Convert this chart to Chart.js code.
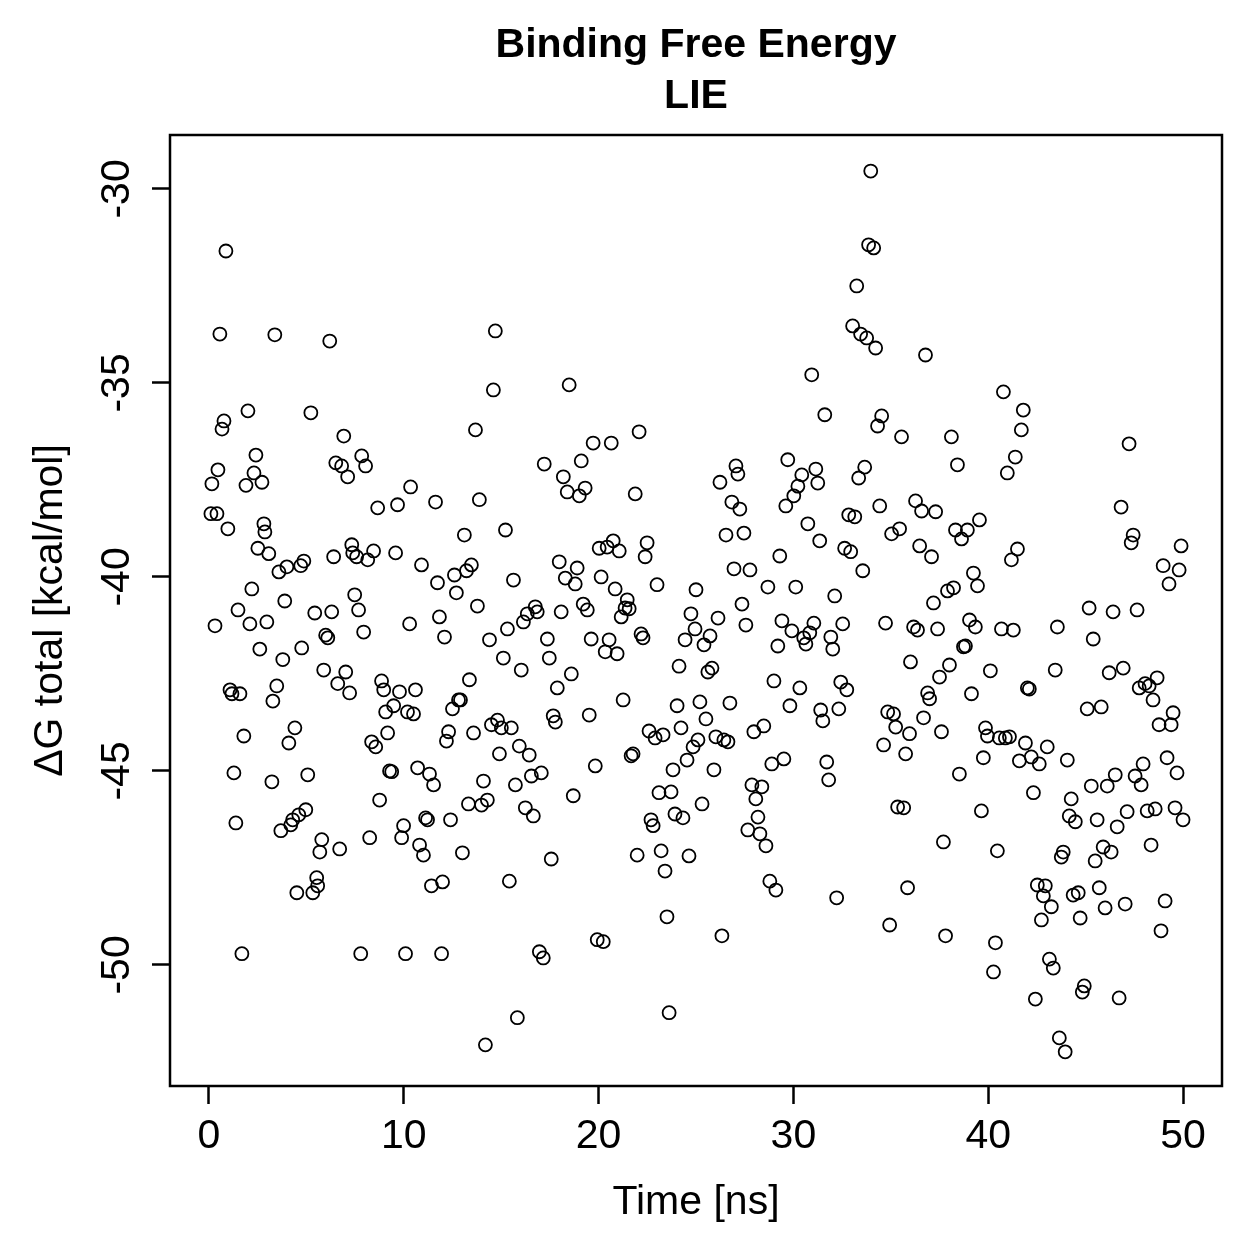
<!DOCTYPE html>
<html><head><meta charset="utf-8">
<script src="https://cdn.jsdelivr.net/npm/chart.js@4.4.1/dist/chart.umd.min.js"></script>
<style>html,body{margin:0;padding:0;background:#fff;}#wrap{width:1259px;height:1259px;}</style>
</head><body><div id="wrap"><canvas id="c" width="1259" height="1259"></canvas></div>
<script>
const titleLines = ['Binding Free Energy', 'LIE'];
const xLabel = 'Time [ns]';
const yLabel = 'ΔG total [kcal/mol]';
const xTicks = [0, 10, 20, 30, 40, 50];
const yTicks = [-50, -45, -40, -35, -30];

const times = [0.1,0.15,0.31,0.41,0.46,0.56,0.67,0.77,0.87,0.97,1.08,1.18,1.28,1.38,1.49,1.59,1.69,1.79,1.9,2.0,2.1,2.2,2.31,2.41,2.51,2.61,2.72,2.82,2.87,2.97,3.07,3.23,3.28,3.38,3.48,3.59,3.69,3.79,3.89,4.0,4.1,4.2,4.3,4.41,4.51,4.61,4.71,4.76,4.87,4.97,5.07,5.23,5.33,5.43,5.53,5.58,5.69,5.79,5.89,5.99,6.1,6.2,6.3,6.4,6.51,6.61,6.71,6.81,6.92,7.02,7.12,7.22,7.33,7.38,7.48,7.58,7.68,7.79,7.84,7.94,8.04,8.15,8.25,8.35,8.45,8.56,8.66,8.76,8.86,8.97,9.07,9.17,9.27,9.38,9.48,9.58,9.68,9.78,9.89,9.99,10.09,10.19,10.3,10.35,10.5,10.6,10.71,10.81,10.91,11.01,11.12,11.22,11.32,11.42,11.53,11.63,11.73,11.83,11.94,11.99,12.09,12.19,12.3,12.4,12.5,12.6,12.7,12.81,12.91,13.01,13.11,13.22,13.32,13.37,13.47,13.58,13.68,13.78,13.88,13.99,14.09,14.19,14.29,14.4,14.5,14.6,14.7,14.81,14.91,15.01,15.11,15.22,15.32,15.42,15.52,15.63,15.73,15.83,15.93,16.03,16.14,16.24,16.34,16.44,16.55,16.65,16.75,16.85,16.96,17.06,17.16,17.21,17.37,17.47,17.57,17.67,17.78,17.88,17.98,18.08,18.19,18.29,18.39,18.49,18.6,18.7,18.8,18.9,19.01,19.11,19.21,19.31,19.42,19.52,19.62,19.72,19.83,19.93,20.03,20.13,20.24,20.34,20.44,20.54,20.65,20.75,20.85,20.95,21.06,21.16,21.26,21.36,21.47,21.57,21.67,21.77,21.88,21.98,22.08,22.18,22.28,22.39,22.49,22.59,22.69,22.8,22.9,23.0,23.1,23.21,23.31,23.41,23.51,23.62,23.72,23.82,23.92,24.03,24.13,24.23,24.33,24.44,24.54,24.64,24.74,24.85,24.95,25.0,25.1,25.2,25.31,25.41,25.51,25.61,25.72,25.82,25.92,26.02,26.13,26.23,26.33,26.43,26.54,26.64,26.74,26.84,26.95,27.05,27.15,27.25,27.36,27.46,27.56,27.66,27.77,27.87,27.97,28.07,28.18,28.28,28.38,28.48,28.59,28.69,28.79,28.89,29.0,29.1,29.2,29.3,29.41,29.51,29.61,29.71,29.82,29.92,30.02,30.12,30.23,30.33,30.43,30.53,30.64,30.74,30.84,30.94,31.05,31.15,31.25,31.35,31.4,31.51,31.61,31.71,31.81,31.92,32.02,32.12,32.22,32.33,32.43,32.53,32.63,32.74,32.84,32.94,33.04,33.15,33.25,33.35,33.45,33.56,33.66,33.76,33.86,33.97,34.12,34.22,34.32,34.43,34.53,34.63,34.73,34.84,34.94,35.04,35.14,35.25,35.35,35.45,35.55,35.66,35.76,35.86,35.96,36.01,36.17,36.27,36.37,36.48,36.58,36.68,36.78,36.89,36.99,37.09,37.19,37.3,37.4,37.5,37.6,37.7,37.81,37.91,38.01,38.11,38.22,38.32,38.42,38.52,38.63,38.73,38.83,38.93,39.04,39.14,39.24,39.34,39.45,39.55,39.65,39.75,39.86,39.96,40.11,40.27,40.37,40.47,40.57,40.68,40.78,40.88,40.98,41.09,41.19,41.29,41.39,41.5,41.6,41.7,41.8,41.91,42.01,42.11,42.21,42.32,42.42,42.52,42.62,42.73,42.83,42.93,43.03,43.14,43.24,43.34,43.44,43.55,43.65,43.75,43.85,43.95,44.06,44.16,44.26,44.36,44.47,44.62,44.72,44.83,44.93,45.08,45.18,45.29,45.39,45.49,45.59,45.7,45.8,45.9,46.0,46.11,46.21,46.31,46.41,46.52,46.62,46.72,46.82,46.93,47.03,47.13,47.23,47.34,47.44,47.54,47.64,47.75,47.85,47.95,48.05,48.16,48.26,48.36,48.46,48.57,48.67,48.77,48.87,48.98,49.08,49.18,49.28,49.39,49.49,49.59,49.69,49.8,49.9,50.0];

const dG = [-38.37,-37.6,-41.26,-38.37,-37.24,-33.74,-36.19,-35.98,-31.6,-38.76,-42.91,-43.01,-45.05,-46.34,-40.85,-43.01,-49.71,-44.1,-37.64,-35.72,-41.21,-40.31,-37.32,-36.86,-39.26,-41.86,-37.56,-38.63,-38.84,-41.16,-39.4,-45.28,-43.2,-33.76,-42.81,-39.87,-46.54,-42.13,-40.62,-39.74,-44.28,-46.39,-46.26,-43.89,-48.14,-46.13,-39.71,-41.83,-39.59,-46.0,-45.1,-35.77,-48.14,-40.93,-47.75,-47.96,-47.09,-46.77,-42.4,-41.5,-41.57,-33.92,-40.9,-39.48,-37.06,-42.75,-47.01,-37.14,-36.37,-42.45,-37.42,-42.99,-39.17,-39.38,-40.46,-39.48,-40.85,-49.71,-36.88,-41.42,-37.14,-39.56,-46.72,-44.25,-39.33,-44.38,-38.22,-45.75,-42.68,-42.91,-43.48,-44.02,-45.0,-45.02,-43.32,-39.38,-38.14,-42.96,-46.72,-46.41,-49.71,-43.48,-41.21,-37.68,-43.53,-42.91,-44.92,-46.91,-39.69,-47.17,-46.21,-46.26,-45.08,-47.96,-45.36,-38.07,-40.15,-41.03,-49.71,-47.86,-41.55,-44.23,-43.99,-46.26,-43.4,-39.95,-40.41,-43.17,-43.17,-47.11,-38.92,-39.84,-45.85,-42.65,-39.69,-44.02,-36.21,-40.75,-38.01,-45.88,-45.26,-52.06,-45.75,-41.62,-43.81,-35.18,-33.66,-43.69,-44.56,-43.89,-42.09,-38.79,-41.34,-47.84,-43.89,-40.08,-45.36,-51.36,-44.36,-42.4,-41.16,-45.95,-40.95,-44.59,-45.13,-46.16,-40.77,-40.9,-49.66,-45.05,-49.82,-37.09,-41.6,-42.09,-47.27,-43.58,-43.74,-42.86,-39.61,-40.9,-37.42,-40.03,-37.81,-35.05,-42.5,-45.64,-40.18,-39.77,-37.91,-37.01,-40.7,-37.71,-40.85,-43.56,-41.6,-36.55,-44.87,-49.35,-39.26,-40.0,-49.4,-41.93,-39.23,-41.62,-36.55,-39.07,-40.31,-41.98,-39.33,-41.03,-43.17,-40.8,-40.59,-40.82,-44.61,-44.56,-37.86,-47.17,-36.26,-41.47,-41.57,-39.48,-39.12,-43.97,-46.26,-46.41,-44.15,-40.2,-45.56,-47.06,-44.07,-47.58,-48.76,-51.23,-45.54,-44.97,-46.11,-43.32,-42.3,-43.89,-46.21,-41.62,-44.72,-47.19,-40.95,-44.38,-41.34,-40.33,-44.2,-43.22,-45.85,-41.75,-43.66,-42.45,-41.52,-42.35,-44.97,-44.12,-41.06,-37.56,-49.25,-44.2,-38.92,-44.25,-43.25,-38.07,-39.79,-37.14,-37.35,-38.25,-40.7,-38.87,-41.24,-46.52,-39.82,-45.36,-43.99,-45.72,-46.19,-46.62,-45.41,-43.84,-46.93,-40.26,-47.84,-44.82,-42.68,-48.07,-41.78,-39.46,-41.13,-44.69,-38.17,-36.98,-43.32,-41.39,-37.91,-40.26,-37.66,-42.86,-37.37,-41.57,-41.73,-38.63,-41.44,-34.79,-41.19,-37.22,-37.58,-39.07,-43.43,-43.71,-35.82,-44.77,-45.23,-41.55,-41.86,-40.49,-48.27,-43.4,-42.71,-41.21,-39.26,-42.91,-38.4,-39.35,-33.53,-38.45,-32.5,-37.45,-33.74,-39.84,-37.17,-33.84,-31.44,-29.54,-31.52,-34.1,-36.11,-38.17,-35.85,-44.33,-41.19,-43.48,-48.97,-38.89,-43.53,-43.87,-45.93,-38.76,-36.39,-45.95,-44.56,-48.01,-44.04,-42.19,-41.29,-38.04,-41.37,-39.2,-38.3,-43.63,-34.28,-42.99,-43.14,-39.48,-40.67,-38.32,-41.34,-42.58,-43.99,-46.83,-49.25,-40.36,-42.27,-36.39,-40.28,-38.79,-37.11,-45.08,-39.02,-41.8,-41.78,-38.79,-41.11,-43.01,-39.9,-41.29,-40.23,-38.53,-46.03,-44.66,-43.89,-44.1,-42.42,-50.18,-49.43,-47.06,-44.15,-41.34,-35.23,-44.15,-37.32,-44.12,-39.56,-41.37,-36.91,-39.28,-44.74,-36.21,-35.7,-44.28,-42.86,-42.89,-44.64,-45.56,-50.88,-47.94,-44.82,-48.84,-48.22,-47.96,-44.38,-49.85,-48.5,-50.08,-42.4,-41.29,-51.88,-47.22,-47.09,-52.24,-44.72,-46.16,-45.72,-48.2,-46.31,-48.14,-48.79,-50.7,-50.54,-43.4,-40.8,-45.39,-41.6,-47.32,-46.26,-48.01,-43.35,-46.96,-48.53,-45.39,-42.47,-47.09,-40.9,-45.1,-46.44,-50.85,-38.2,-42.35,-48.43,-46.05,-36.57,-39.12,-38.92,-45.13,-40.85,-42.86,-45.36,-44.82,-42.75,-46.03,-42.81,-46.91,-43.17,-45.98,-42.6,-43.81,-49.12,-39.71,-48.35,-44.66,-40.18,-43.81,-43.5,-45.95,-45.05,-39.82,-39.2,-46.26];

if (times.length !== dG.length) console.error('length mismatch', times.length, dG.length);

const FONT = "'Liberation Sans', Arial, Helvetica, sans-serif";

const framePlugin = {
  id: 'frame',
  afterDraw(chart) {
    const {ctx, chartArea: a} = chart;
    ctx.save();
    ctx.strokeStyle = '#000';
    ctx.lineWidth = 2.5;
    ctx.strokeRect(a.left, a.top, a.right - a.left, a.bottom - a.top);
    ctx.fillStyle = '#000';
    ctx.textAlign = 'center';
    ctx.textBaseline = 'alphabetic';
    ctx.font = 'bold 41px ' + FONT;
    const cx = (a.left + a.right) / 2;
    ctx.fillText(titleLines[0], cx, 57);
    ctx.fillText(titleLines[1], cx, 108);
    ctx.restore();
  }
};

const points = times.map((t, i) => ({x: t, y: dG[i]}));

new Chart(document.getElementById('c').getContext('2d'), {
  type: 'scatter',
  data: {datasets: [{
    data: points,
    pointStyle: 'circle',
    pointRadius: 6.5,
    pointHoverRadius: 6.5,
    pointBorderWidth: 1.8,
    borderColor: '#000',
    backgroundColor: 'rgba(0,0,0,0)',
    showLine: false
  }]},
  options: {
    responsive: false,
    animation: false,
    devicePixelRatio: 1,
    events: [],
    layout: {padding: {left: 0, right: 37, top: 135, bottom: 0}},
    plugins: {legend: {display: false}, tooltip: {enabled: false}, title: {display: false}},
    scales: {
      x: {
        type: 'linear', position: 'bottom', min: -2, max: 52,
        afterBuildTicks: s => { s.ticks = xTicks.map(v => ({value: v})); },
        afterFit: s => { s.height = 173; },
        grid: {drawOnChartArea: false, drawTicks: true, tickLength: 18, tickWidth: 2.5, tickColor: '#000'},
        border: {display: false},
        ticks: {color: '#000', font: {family: FONT, size: 41}, padding: 8, maxRotation: 0, minRotation: 0, autoSkip: false},
        title: {display: true, text: xLabel, color: '#000', font: {family: FONT, size: 41}, padding: {top: 0, bottom: 32}}
      },
      y: {
        type: 'linear', position: 'left', min: -53.12, max: -28.61,
        afterBuildTicks: s => { s.ticks = yTicks.map(v => ({value: v})); },
        afterFit: s => { s.width = 170; },
        grid: {drawOnChartArea: false, drawTicks: true, tickLength: 18, tickWidth: 2.5, tickColor: '#000'},
        border: {display: false},
        ticks: {color: '#000', font: {family: FONT, size: 41}, padding: 5, minRotation: 90, maxRotation: 90, crossAlign: 'center', autoSkip: false},
        title: {display: true, text: yLabel, color: '#000', font: {family: FONT, size: 41}, padding: {top: 26, bottom: 0}}
      }
    }
  },
  plugins: [framePlugin]
});
</script>
</body></html>
